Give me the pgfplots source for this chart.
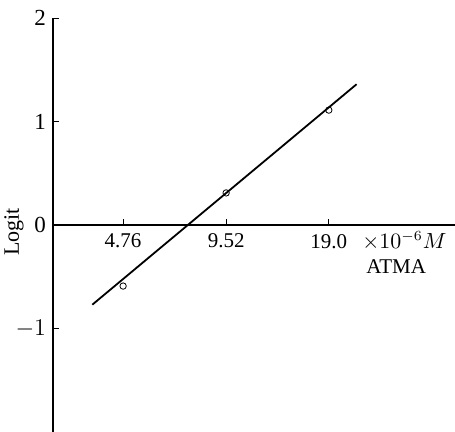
\documentclass[border=0pt]{standalone}
\usepackage{pgfplots}
\pgfplotsset{compat=1.18}
\usepackage{fontspec}
\setmainfont{Liberation Serif}
\begin{document}
\begin{tikzpicture}
\begin{axis}[
  name=ax,
  scale only axis,
  width=201pt, height=207pt,
  xmode=log,
  xmin=2.97, xmax=44.4,
  ymin=-2, ymax=2,
  axis x line*=middle,
  axis y line*=left,
  axis line style={line width=0.6pt},
  hide obscured x ticks=false,
  hide obscured y ticks=false,
  xtick={4.76,9.52,19.0},
  xticklabels={4.76,9.52,19.0},
  ytick={-1,0,1,2},
  yticklabels={$-1$,0,1,2},
  minor xtick={}, minor ytick={},
  xminorticks=false,
  ytick align=inside,
  xtick align=inside,
  major tick length=3pt,
  tick style={black, line width=0.4pt},
  x tick label style={font=\fontsize{10.5}{12}\selectfont, yshift=-1pt},
  y tick label style={font=\fontsize{11.5}{13}\selectfont},
  /pgf/number format/assume math mode=true,
  clip=false,
]
\addplot[black, line width=0.9pt] coordinates {(3.87,-0.77) (22.9,1.36)};
\addplot[only marks, mark=o, mark size=1.6pt, mark options={line width=0.4pt, fill=white}, black] coordinates {(4.76,-0.59) (9.52,0.31) (19.0,1.11)};
\node[font=\fontsize{10.5}{12}\selectfont, anchor=center] at (axis cs:31.6,-0.15) {$\times 10^{-6}M$};
\node[font=\fontsize{10.5}{12}\selectfont, anchor=center] at (axis cs:29.9,-0.40) {ATMA};
\node[font=\fontsize{11}{13}\selectfont, rotate=90, anchor=center] at ([xshift=-19.5pt]rel axis cs:0,0.483) {Logit};
\end{axis}
\pgfresetboundingbox
\path[use as bounding box] ([xshift=-26.5pt]ax.south west) rectangle ([yshift=9pt]ax.north east);
\end{tikzpicture}
\end{document}
